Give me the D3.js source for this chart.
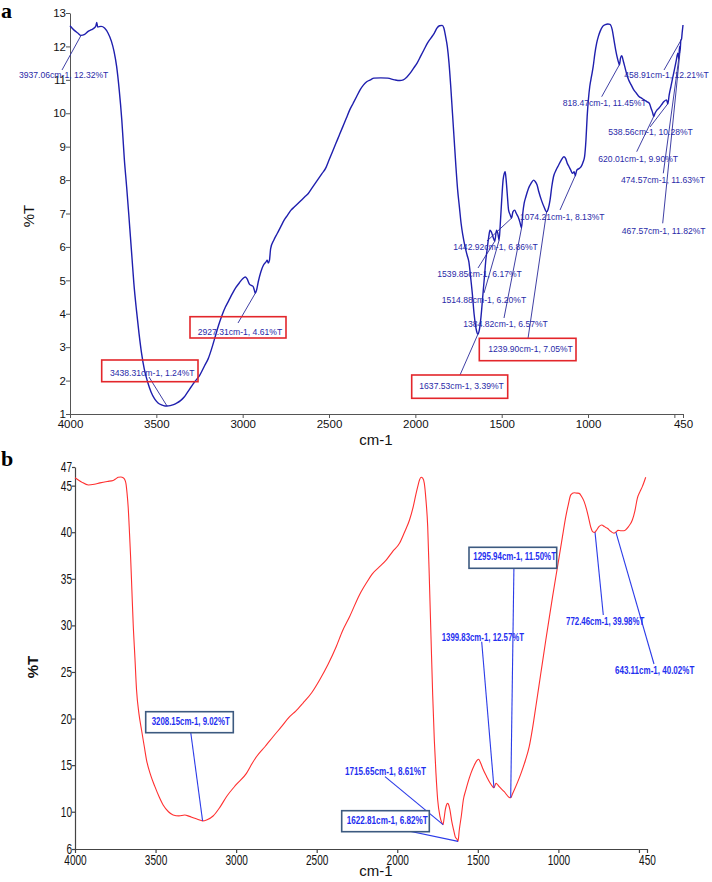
<!DOCTYPE html>
<html><head><meta charset="utf-8">
<script src="https://cdn.jsdelivr.net/npm/d3@7"></script>
<style>
html,body{margin:0;padding:0;background:#fff;}
svg{display:block;font-family:"Liberation Sans",Arial,sans-serif;}
</style></head>
<body><svg id="c" width="712" height="882"></svg>
<script>
// ---------- Panel a data (wavenumber cm-1, %T) ----------
const aWavenumber = [4000,3975,3955,3937,3915,3895,3875,3860,3850,3845,3840,3820,3800,3780,3760,3745,3730,3715,3700,3685,3672,3660,3650,3640,3630,3615,3600,3585,3570,3550,3530,3510,3490,3470,3450,3438,3420,3400,3380,3360,3340,3320,3300,3280,3250,3220,3200,3180,3160,3140,3120,3100,3080,3060,3040,3020,3000,2985,2975,2960,2950,2940,2932,2927,2920,2910,2895,2880,2865,2858,2852,2845,2838,2820,2800,2780,2760,2740,2720,2700,2680,2660,2640,2620,2600,2580,2560,2540,2520,2500,2480,2460,2440,2420,2400,2380,2360,2340,2320,2300,2280,2260,2240,2200,2160,2120,2090,2070,2050,2030,2010,1990,1970,1950,1930,1910,1890,1875,1860,1845,1835,1825,1815,1805,1795,1785,1775,1765,1755,1745,1735,1725,1712,1700,1690,1680,1670,1660,1650,1640,1637.5,1630,1620,1610,1600,1592,1585,1575,1568,1560,1550,1540,1530,1522,1515,1508,1500,1492,1485,1480,1475,1468,1460,1450,1443,1435,1425,1415,1405,1395,1385,1378,1370,1360,1345,1330,1315,1305,1295,1285,1270,1255,1240,1230,1220,1210,1200,1185,1170,1155,1140,1130,1120,1110,1100,1090,1080,1074,1065,1050,1040,1028,1020,1012,1005,998,990,980,970,960,950,940,930,915,900,885,873,860,850,840,830,822,818,812,805,795,785,775,765,750,735,720,705,690,675,660,645,635,625,620,612,600,590,575,560,545,538,530,520,510,500,490,480,474.5,470,467.5,462,458.9,455,450];
const aTransmittance = [12.62,12.48,12.40,12.33,12.36,12.45,12.50,12.55,12.62,12.72,12.58,12.60,12.55,12.40,12.15,11.85,11.40,10.70,9.80,8.60,7.80,7.00,6.30,5.60,4.90,4.10,3.40,2.80,2.35,1.95,1.65,1.45,1.33,1.27,1.24,1.24,1.25,1.28,1.33,1.40,1.50,1.65,1.80,1.95,2.15,2.45,2.65,2.95,3.30,3.65,3.95,4.20,4.40,4.60,4.78,4.92,5.05,5.10,5.05,4.88,4.85,4.82,4.70,4.61,4.70,4.95,5.25,5.45,5.55,5.60,5.52,5.60,5.95,6.20,6.40,6.60,6.80,6.95,7.10,7.20,7.30,7.40,7.50,7.60,7.75,7.90,8.05,8.20,8.35,8.60,8.85,9.10,9.35,9.60,9.85,10.10,10.30,10.50,10.70,10.85,10.95,11.00,11.05,11.06,11.05,11.00,10.98,11.00,11.08,11.20,11.35,11.50,11.70,11.90,12.10,12.25,12.40,12.55,12.62,12.63,12.55,12.30,12.00,11.50,10.80,10.00,9.20,8.40,7.70,7.20,6.70,6.35,6.00,5.75,5.55,5.10,4.60,4.00,3.60,3.40,3.39,3.50,3.90,4.50,5.10,5.60,5.90,6.30,6.50,6.45,6.30,6.17,6.50,6.40,6.20,6.70,7.40,8.00,8.20,8.25,8.05,7.60,7.10,6.95,6.86,7.05,7.10,7.00,6.90,6.75,6.57,7.00,7.30,7.50,7.75,7.90,8.00,7.95,7.85,7.65,7.40,7.20,7.05,7.15,7.40,7.80,8.10,8.30,8.45,8.60,8.70,8.65,8.50,8.40,8.30,8.20,8.25,8.13,8.30,8.35,8.40,8.55,8.70,9.20,9.90,10.40,10.80,11.10,11.40,11.80,12.10,12.30,12.45,12.60,12.65,12.67,12.66,12.50,12.20,11.90,11.65,11.50,11.45,11.65,11.72,11.55,11.35,11.15,11.00,10.85,10.70,10.60,10.50,10.45,10.40,10.35,10.30,10.15,10.00,9.90,10.00,10.10,10.15,10.25,10.35,10.40,10.28,10.55,10.80,11.05,11.30,11.55,11.80,11.63,12.00,11.82,12.20,12.21,12.40,12.64];

// ---------- Panel b data ----------
const bWavenumber = [4000,3960,3917,3880,3845,3800,3763,3745,3732,3715,3701,3690,3684,3677,3670,3662,3655,3647,3639,3628,3618,3603,3587,3570,3556,3530,3504,3478,3453,3420,3391,3355,3319,3290,3267,3240,3215,3208,3180,3143,3100,3060,3000,2936,2900,2874,2820,2771,2720,2668,2630,2586,2530,2482,2430,2379,2340,2296,2234,2190,2152,2110,2069,2030,1986,1955,1924,1900,1885,1873,1862,1852,1842,1832,1822,1811,1800,1790,1780,1770,1760,1749,1735,1722,1716,1710,1702,1695,1687,1680,1673,1662,1650,1640,1629,1623,1615,1602,1590,1575,1563,1543,1522,1505,1495,1482,1470,1445,1423,1408,1400,1395,1387,1377,1367,1336,1305,1296,1285,1274,1255,1232,1205,1181,1160,1140,1109,1078,1055,1036,1015,995,975,954,938,923,902,885,871,855,840,826,814,800,789,775,764,748,731,714,696,675,655,643,630,610,593,565,541,525,510,495,479,458];
const bTransmittance = [45.85,45.40,45.07,45.15,45.30,45.45,45.55,45.75,45.90,45.92,45.85,45.60,45.25,44.20,42.70,40.00,37.40,33.80,30.20,26.50,23.06,20.50,18.77,17.00,15.55,13.90,12.69,11.60,10.72,10.00,9.65,9.55,9.65,9.50,9.36,9.20,9.05,9.02,9.15,9.54,10.50,11.61,12.90,14.12,15.20,15.90,17.00,18.05,19.10,20.20,20.80,21.64,22.80,24.14,25.80,27.71,29.40,30.93,33.30,34.60,35.59,36.30,37.00,37.90,38.81,40.00,41.31,42.80,44.00,44.89,45.60,45.90,45.80,45.25,43.50,40.60,34.50,28.43,22.50,17.70,14.20,11.26,9.50,8.76,8.61,9.20,10.19,10.70,10.90,10.70,10.19,9.00,8.04,7.30,7.04,6.82,8.04,9.60,11.26,12.30,13.05,14.12,15.00,15.50,15.63,15.20,14.66,13.76,13.05,12.69,12.57,12.75,13.05,12.90,12.69,12.15,11.54,11.50,11.90,12.33,13.10,14.12,15.50,16.98,19.00,21.27,24.86,28.43,31.00,33.08,35.30,37.37,39.50,41.67,43.00,44.00,44.24,44.20,44.17,43.80,43.28,42.50,41.67,40.60,40.10,39.98,40.20,40.60,40.77,40.60,40.42,40.10,39.90,40.02,40.20,40.16,40.16,40.60,41.31,42.30,43.64,44.30,44.89,45.90];

// ---------- Tick values / labels ----------
const aYTicks = [1,2,3,4,5,6,7,8,9,10,11,12,13];
const bYTicks = [6,10,15,20,25,30,35,40,45,47];
const xTicks = [4000,3500,3000,2500,2000,1500,1000,500,450];
const xTickLabels = ["4000","3500","3000","2500","2000","1500","1000","","450"];

// ---------- Peak annotations ----------
const aPeakLabels = ["3937.06cm-1, 12.32%T","3438.31cm-1, 1.24%T","2927.31cm-1, 4.61%T","1637.53cm-1, 3.39%T","1239.90cm-1, 7.05%T","1384.82cm-1, 6.57%T","1514.88cm-1, 6.20%T","1539.85cm-1, 6.17%T","1442.92cm-1, 6.86%T","1074.21cm-1, 8.13%T","818.47cm-1, 11.45%T","458.91cm-1, 12.21%T","538.56cm-1, 10.28%T","620.01cm-1, 9.90%T","474.57cm-1, 11.63%T","467.57cm-1, 11.82%T"];
const aPeakWn = [3937.06,3438.31,2927.31,1637.53,1239.90,1384.82,1514.88,1539.85,1442.92,1074.21,818.47,458.91,538.56,620.01,474.57,467.57];
const aPeakT = [12.32,1.24,4.61,3.39,7.05,6.57,6.20,6.17,6.86,8.13,11.45,12.21,10.28,9.90,11.63,11.82];
const aPeakBoxed = [false,true,true,true,true,false,false,false,false,false,false,false,false,false,false,false];

const bPeakLabels = ["3208.15cm-1, 9.02%T","1715.65cm-1, 8.61%T","1622.81cm-1, 6.82%T","1295.94cm-1, 11.50%T","1399.83cm-1, 12.57%T","772.46cm-1, 39.98%T","643.11cm-1, 40.02%T"];
const bPeakWn = [3208.15,1715.65,1622.81,1295.94,1399.83,772.46,643.11];
const bPeakT = [9.02,8.61,6.82,11.50,12.57,39.98,40.02];
const bPeakBoxed = [true,false,true,true,false,false,false];

// ---------- Layout (pixels) ----------
// label layout: [textX, textCenterY, leaderStartX, leaderStartY]
const aLabelLayout = [[19,75,62,70],[110,372.7,149,377],[197.7,331.7,238,323],[419.3,385.7,460,375],[488.3,349.3,528,338.5],[463.3,324.3,504,318],[441.7,300,484,293],[437.3,274.3,478,268],[453.3,246.7,487,241],[520,216.7,560,210],[562.7,103.3,601.7,96.7],[624.3,75,664,70],[608.3,132.3,650,127],[598.3,159.3,636.7,151.7],[621,180,663.3,173.3],[621.7,230.7,662.7,223.3]];
const aBoxLayout = [null,[101.7,360,96.3,21.7],[190,316.7,96,21.3],[411.7,375,96,23.3],[479.3,338.3,96.7,22.4]];
const bLabelLayout = [[151.7,721.7,190,727,78],[345,771,385,776.7,81],[346.7,820.7,385,826,81],[473.3,556.7,514,561.7,82.7],[441.7,637.7,481.7,641.7,82.3],[566,621,603.3,615,78.3],[615,670,654,664,79.3]];
const bBoxLayout = [[145.7,711.7,87.6,21],null,[341.7,810.7,87.6,21],[469,547.3,87.7,21]];

const svg = d3.select("#c");

function narrow(sel, f){
  sel.each(function(){
    const L = this.getComputedTextLength();
    d3.select(this).attr("textLength", L*f).attr("lengthAdjust","spacingAndGlyphs");
  });
}

// ================= Panel a =================
const ax = d3.scaleLinear().domain([4000,450]).range([70,683]);
const ay = d3.scaleLinear().domain([1,13]).range([414,13]);
const ga = svg.append("g");

const axA = ga.append("g").attr("transform","translate(0,414)")
  .call(d3.axisBottom(ax).tickValues(xTicks).tickFormat((d,i)=>xTickLabels[i]).tickSize(4).tickSizeOuter(0));
const ayA = ga.append("g").attr("transform","translate(70,0)")
  .call(d3.axisLeft(ay).tickValues(aYTicks).tickFormat(d3.format("d")).tickSize(4).tickSizeOuter(0));
[axA,ayA].forEach(g=>{
  g.selectAll("path,line").attr("stroke","#555").attr("stroke-width",1);
  g.selectAll("text").attr("fill","#111").style("font-size","11.5px");
});
axA.selectAll("text").attr("dy","0.75em").attr("y",5);
ayA.selectAll("text").attr("x",-4);
ga.append("text").attr("transform","translate(34,216) rotate(-90)").attr("text-anchor","middle")
  .style("font-size","15px").attr("fill","#111").text("%T");
ga.append("text").attr("x",376).attr("y",445).attr("text-anchor","middle")
  .style("font-size","15px").attr("fill","#111").text("cm-1");

const lineA = d3.line().x((d,i)=>ax(aWavenumber[i])).y((d,i)=>ay(aTransmittance[i])).curve(d3.curveMonotoneX);
ga.append("path").datum(aTransmittance).attr("d",lineA).attr("fill","none")
  .attr("stroke","#1f1fae").attr("stroke-width",1.4);

aPeakLabels.forEach((lab,i)=>{
  const L = aLabelLayout[i];
  ga.append("line").attr("x1",L[2]).attr("y1",L[3]).attr("x2",ax(aPeakWn[i])).attr("y2",ay(aPeakT[i]))
    .attr("stroke","#2a2a9a").attr("stroke-width",0.9);
});
aPeakLabels.forEach((lab,i)=>{
  const L = aLabelLayout[i];
  if (aPeakBoxed[i]) {
    const B = aBoxLayout[i];
    ga.append("rect").attr("x",B[0]).attr("y",B[1]).attr("width",B[2]).attr("height",B[3])
      .attr("fill","none").attr("stroke","#e3262b").attr("stroke-width",1.6);
  }
  ga.append("text").attr("x",L[0]).attr("y",L[1]).attr("dy","0.35em")
    .style("font-size","8.6px").attr("fill","#2a2aa8").text(lab);
});

// ================= Panel b =================
const bx = d3.scaleLinear().domain([4000,450]).range([75,647]);
const by = d3.scaleLinear().domain([6,47]).range([849,467]);
const gb = svg.append("g");

const axB = gb.append("g").attr("transform","translate(0,849)")
  .call(d3.axisBottom(bx).tickValues(xTicks).tickFormat((d,i)=>xTickLabels[i]).tickSize(4).tickSizeOuter(0));
const ayB = gb.append("g").attr("transform","translate(75,0)")
  .call(d3.axisLeft(by).tickValues(bYTicks).tickFormat(d3.format("d")).tickSize(3).tickSizeOuter(0));
[axB,ayB].forEach(g=>{
  g.selectAll("path,line").attr("stroke","#444").attr("stroke-width",1.2);
  g.selectAll("text").attr("fill","#111").style("font-size","14px");
});
axB.selectAll("text").attr("dy","0.75em").attr("y",5);
ayB.selectAll("text").attr("x",-3);
narrow(axB.selectAll("text"),0.72);
narrow(ayB.selectAll("text"),0.72);
gb.append("text").attr("transform","translate(38,667) rotate(-90)").attr("text-anchor","middle")
  .style("font-size","15px").style("font-weight","bold").attr("fill","#111").text("%T");
gb.append("text").attr("x",376).attr("y",876).attr("text-anchor","middle")
  .style("font-size","15px").attr("fill","#111").text("cm-1");

const lineB = d3.line().x((d,i)=>bx(bWavenumber[i])).y((d,i)=>by(bTransmittance[i])).curve(d3.curveMonotoneX);
gb.append("path").datum(bTransmittance).attr("d",lineB).attr("fill","none")
  .attr("stroke","#ff3030").attr("stroke-width",1.1);

bPeakLabels.forEach((lab,i)=>{
  const L = bLabelLayout[i];
  gb.append("line").attr("x1",L[2]).attr("y1",L[3]).attr("x2",bx(bPeakWn[i])).attr("y2",by(bPeakT[i]))
    .attr("stroke","#2b3be8").attr("stroke-width",1.1);
});
bPeakLabels.forEach((lab,i)=>{
  const L = bLabelLayout[i];
  if (bPeakBoxed[i]) {
    const B = bBoxLayout[i];
    gb.append("rect").attr("x",B[0]).attr("y",B[1]).attr("width",B[2]).attr("height",B[3])
      .attr("fill","#fff").attr("stroke","#3d5a80").attr("stroke-width",1.6);
  }
  gb.append("text").attr("x",L[0]).attr("y",L[1]).attr("dy","0.35em")
    .style("font-size","10px").style("font-weight","bold").attr("fill","#1f2ff0")
    .attr("textLength",L[4]).attr("lengthAdjust","spacingAndGlyphs").text(lab);
});

// panel letters
svg.append("text").attr("x",1).attr("y",18).style("font-family","'Liberation Serif','DejaVu Serif',serif")
  .style("font-size","22px").style("font-weight","bold").attr("fill","#000").text("a");
svg.append("text").attr("x",1).attr("y",466).style("font-family","'Liberation Serif','DejaVu Serif',serif")
  .style("font-size","22px").style("font-weight","bold").attr("fill","#000").text("b");
</script></body></html>
